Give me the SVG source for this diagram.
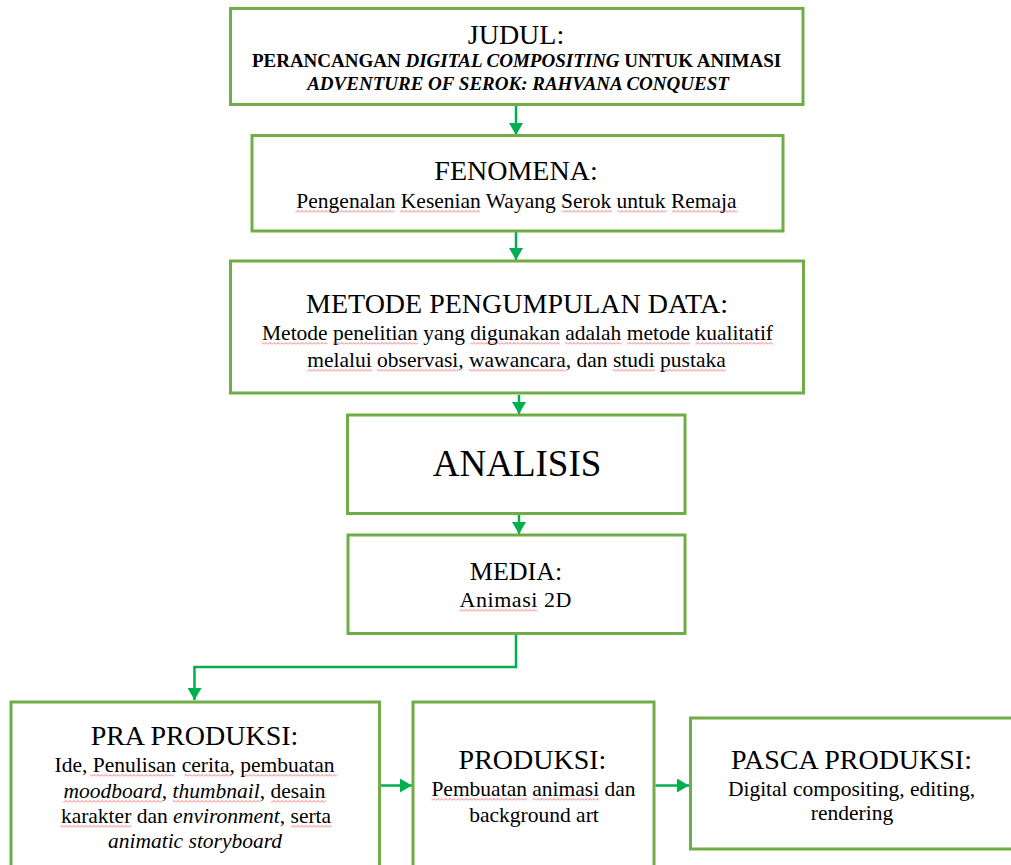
<svg xmlns="http://www.w3.org/2000/svg" width="1011" height="865" viewBox="0 0 1011 865">
<style>
.box{fill:#fff;stroke:#70AD47;stroke-width:3}
.conn{fill:none;stroke:#00B050;stroke-width:2.5}
text{font-family:"Liberation Serif","Times New Roman",serif;fill:#000;text-anchor:middle}
.h{font-size:28px}
.t{font-size:21.5px}
.b{font-size:19px;font-weight:bold}
.i{font-style:italic}
.sq rect{fill:url(#sq)}
</style>
<defs>
<marker id="ah" viewBox="0 0 12 14" refX="12" refY="7" markerWidth="12" markerHeight="14" markerUnits="userSpaceOnUse" orient="auto">
<path d="M0,0 L12,7 L0,14 z" fill="#00B050"/>
</marker>
<pattern id="sq" width="4" height="3" patternUnits="userSpaceOnUse">
<path d="M0,2.5 L2,0.5 L4,2.5" fill="none" stroke="#ee3333" stroke-width="0.8" opacity="0.85"/>
</pattern>
</defs>
<rect width="1011" height="865" fill="#fff"/>
<g id="connectors">
<path class="conn" d="M516,106 V135" marker-end="url(#ah)"/>
<path class="conn" d="M516,232 V260" marker-end="url(#ah)"/>
<path class="conn" d="M519,395 V414" marker-end="url(#ah)"/>
<path class="conn" d="M519,515 V534" marker-end="url(#ah)"/>
<path class="conn" d="M516,635 V667 H194.5 V700" marker-end="url(#ah)"/>
<path class="conn" d="M381,785.5 H412" marker-end="url(#ah)"/>
<path class="conn" d="M655.5,785.5 H689" marker-end="url(#ah)"/>
</g>
<g id="judul">
<rect class="box" x="230.5" y="8.5" width="572.5" height="96"/>
<text class="h" x="516" y="44">JUDUL:</text>
<text class="b" x="516.5" y="67">PERANCANGAN <tspan class="i">DIGITAL COMPOSITING</tspan> UNTUK ANIMASI</text>
<text class="b i" x="518" y="90">ADVENTURE OF SEROK: RAHVANA CONQUEST</text>
</g>
<g id="fenomena">
<rect class="box" x="252" y="135.5" width="531" height="95.5"/>
<text class="h" x="516" y="180">FENOMENA:</text>
<text class="t" x="516.5" y="208">Pengenalan Kesenian Wayang Serok untuk Remaja</text>
<g class="sq" transform="translate(0,210)">
<rect x="295.3" y="0" width="99.1" height="3"/>
<rect x="399.8" y="0" width="80" height="3"/>
<rect x="562.2" y="0" width="50.1" height="3"/>
<rect x="617.7" y="0" width="49" height="3"/>
<rect x="672.1" y="0" width="65.6" height="3"/>
</g>
</g>
<g id="metode">
<rect class="box" x="230.5" y="261" width="573" height="132"/>
<text class="h" x="517" y="313">METODE PENGUMPULAN DATA:</text>
<text class="t" x="517.5" y="340">Metode penelitian yang digunakan adalah metode kualitatif</text>
<text class="t" x="516.5" y="367">melalui observasi, wawancara, dan studi pustaka</text>
<g class="sq" transform="translate(0,342)">
<rect x="261.9" y="0" width="65.7" height="3"/>
<rect x="333" y="0" width="84.8" height="3"/>
<rect x="470.3" y="0" width="89.6" height="3"/>
<rect x="565.2" y="0" width="56.2" height="3"/>
<rect x="626.7" y="0" width="63.3" height="3"/>
<rect x="695.4" y="0" width="77.6" height="3"/>
</g>
<g class="sq" transform="translate(0,369)">
<rect x="307.2" y="0" width="64.5" height="3"/>
<rect x="377.1" y="0" width="81.2" height="3"/>
<rect x="469" y="0" width="96.7" height="3"/>
<rect x="612.9" y="0" width="41.8" height="3"/>
<rect x="660.1" y="0" width="65.7" height="3"/>
</g>
</g>
<g id="analisis">
<rect class="box" x="347.5" y="415" width="337.5" height="98.5"/>
<text x="517" y="476" font-size="37">ANALISIS</text>
</g>
<g id="media">
<rect class="box" x="348" y="535" width="337" height="98.5"/>
<text x="516" y="580" font-size="26">MEDIA:</text>
<text x="515.5" y="607" font-size="22" textLength="112">Animasi 2D</text>
<g class="sq" transform="translate(0,609)">
<rect x="459.5" y="0" width="78" height="3"/>
</g>
</g>
<g id="pra-produksi">
<rect class="box" x="11" y="702" width="368.5" height="200"/>
<text class="h" x="194.5" y="745">PRA PRODUKSI:</text>
<text class="t" x="194.5" y="772">Ide, Penulisan cerita, pembuatan</text>
<text class="t" x="194.5" y="798"><tspan class="i">moodboard</tspan>, <tspan class="i">thumbnail</tspan>, desain</text>
<text class="t" x="196" y="823">karakter dan <tspan class="i">environment</tspan>, serta</text>
<text class="t i" x="195" y="848">animatic storyboard</text>
<g class="sq" transform="translate(0,774)">
<rect x="90" y="0" width="83.6" height="3"/>
<rect x="184.4" y="0" width="47.7" height="3"/>
<rect x="242.9" y="0" width="94.3" height="3"/>
</g>
<g class="sq" transform="translate(0,800)">
<rect x="63.1" y="0" width="99.1" height="3"/>
<rect x="173" y="0" width="87.2" height="3"/>
<rect x="270.9" y="0" width="55" height="3"/>
</g>
<g class="sq" transform="translate(0,825)">
<rect x="60.5" y="0" width="70.4" height="3"/>
<rect x="291" y="0" width="40.6" height="3"/>
</g>
</g>
<g id="produksi">
<rect class="box" x="413" y="702" width="241" height="200"/>
<text class="h" x="532.5" y="769">PRODUKSI:</text>
<text class="t" x="533.5" y="796">Pembuatan animasi dan</text>
<text class="t" x="534" y="822">background art</text>
<g class="sq" transform="translate(0,798)">
<rect x="431.4" y="0" width="95.5" height="3"/>
<rect x="532.3" y="0" width="66.9" height="3"/>
</g>
</g>
<g id="pasca-produksi">
<rect class="box" x="690.5" y="718" width="340" height="131"/>
<text class="h" x="851.5" y="769">PASCA PRODUKSI:</text>
<text class="t" x="851.5" y="796">Digital compositing, editing,</text>
<text class="t" x="852" y="820">rendering</text>
</g>
</svg>
